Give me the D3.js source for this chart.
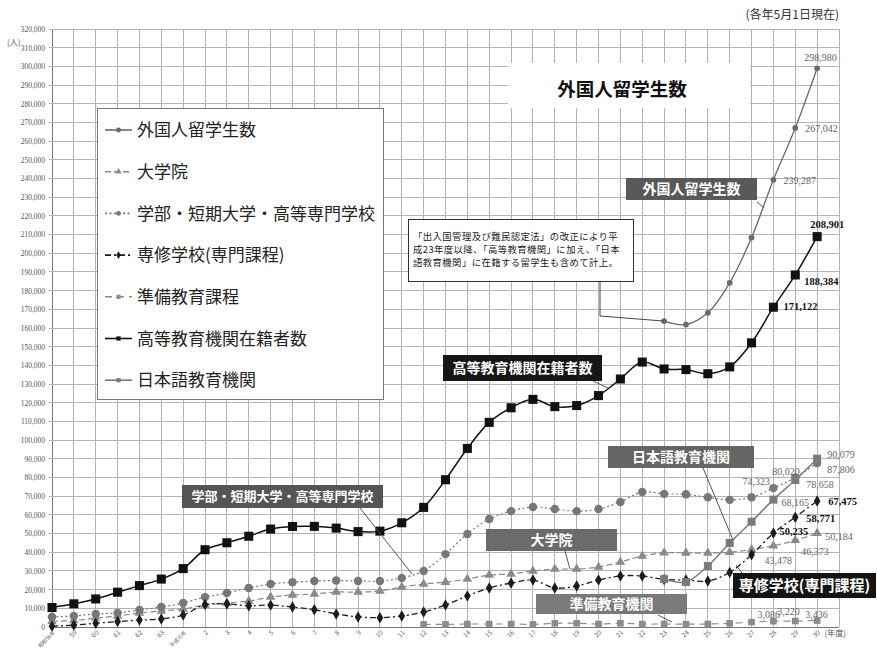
<!DOCTYPE html>
<html><head><meta charset="utf-8">
<script src="https://cdn.jsdelivr.net/npm/d3@7"></script>
<style>body{margin:0;background:#fff}svg{display:block}</style>
</head><body>
<svg id="c" width="877" height="649"></svg>
<script>
// ---------------- DATA ----------------
const years = ["昭和58年","59","60","61","62","63","平成元年","2","3","4","5","6","7","8","9","10","11","12","13","14","15","16","17","18","19","20","21","22","23","24","25","26","27","28","29","30"];
const yTicks = [0,10000,20000,30000,40000,50000,60000,70000,80000,90000,100000,110000,120000,130000,140000,150000,160000,170000,180000,190000,200000,210000,220000,230000,240000,250000,260000,270000,280000,290000,300000,310000,320000];
const N = null;
const totalStudents = [N,N,N,N,N,N,N,N,N,N,N,N,N,N,N,N,N,N,N,N,N,N,N,N,N,N,N,N,163697,161848,168145,184155,208379,239287,267042,298980];
const graduate = [3000,3500,4800,5900,7500,8600,9600,11800,12800,13900,16000,17100,17700,18700,18700,19300,21400,23000,24000,25700,27800,28400,30000,31000,31000,32100,34800,38000,39749,39641,39567,39979,41396,43478,46373,50184];
const undergrad = [5400,5900,7000,7500,9100,10700,12800,16000,18200,20900,23000,24000,24600,24900,24600,24600,26200,30000,39000,49800,57800,62000,64200,63100,62000,63100,66900,72200,71244,71000,69400,68027,69405,74323,80020,87806];
const senshu = [400,1000,2000,2900,3700,4300,6400,12000,12300,11400,11700,10700,9200,7000,5400,5000,5900,8000,11800,16600,20900,23500,25100,20900,21900,25100,27300,27300,25463,25167,24586,29227,38654,50235,58771,67475];
const junbi = [N,N,N,N,N,N,N,N,N,N,N,N,N,N,N,N,N,1400,1400,1600,1600,1600,1400,2000,2000,1600,2000,1600,1619,1500,1600,1952,2607,3086,3220,3436];
const higherEd = [10428,12410,15009,18631,22154,25643,31251,41347,45066,48561,52405,53787,53847,52921,51047,51298,55755,64011,78812,95550,109508,117302,121812,117927,118498,123829,132720,141774,138075,137756,135519,139185,152062,171122,188384,208901];
const japaneseLang = [N,N,N,N,N,N,N,N,N,N,N,N,N,N,N,N,N,N,N,N,N,N,N,N,N,N,N,N,25622,24092,32626,44970,56317,68165,78658,90079];

// ---------------- SETUP ----------------
const svg = d3.select("#c");
const x = d3.scaleLinear().domain([0, years.length]).range([52, 839]);
const y = d3.scaleLinear().domain([0, 320000]).range([627, 29]);
const JP = "'Noto Sans CJK JP', sans-serif";
const SERIF = "'Liberation Serif','Noto Sans CJK JP', serif";

const series = {
  total:   {name:"外国人留学生数", data:totalStudents, color:"#6a6a6a", w:1.3, dash:null, sym:d3.symbolCircle, size:26},
  grad:    {name:"大学院", data:graduate, color:"#8a8a8a", w:1.2, dash:"6,3", sym:d3.symbolTriangle, size:40},
  ug:      {name:"学部・短期大学・高等専門学校", data:undergrad, color:"#777", w:1.2, dash:"2,2.5", sym:d3.symbolCircle, size:56},
  senshu:  {name:"専修学校(専門課程)", data:senshu, color:"#1c1c1c", w:1.3, dash:"6,3,2,3", sym:d3.symbolDiamond, size:38},
  junbi:   {name:"準備教育課程", data:junbi, color:"#8c8c8c", w:1.2, dash:"7,5", sym:d3.symbolSquare, size:44},
  koto:    {name:"高等教育機関在籍者数", data:higherEd, color:"#111", w:1.5, dash:null, sym:d3.symbolSquare, size:82},
  nihongo: {name:"日本語教育機関", data:japaneseLang, color:"#7a7a7a", w:1.5, dash:null, sym:d3.symbolSquare, size:64}
};

// ---------------- GRID ----------------
const grid = svg.append("g").attr("shape-rendering","crispEdges");
grid.selectAll("line.v").data(d3.range(0, years.length + 1)).join("line")
  .attr("x1", d => x(d)).attr("x2", d => x(d))
  .attr("y1", y(320000)).attr("y2", y(0))
  .attr("stroke", d => d === 0 ? "#777" : "#b3b3b3").attr("stroke-width", 1);
grid.selectAll("line.h").data(yTicks).join("line")
  .attr("x1", x(0) - 3).attr("x2", x(years.length))
  .attr("y1", d => y(d)).attr("y2", d => y(d))
  .attr("stroke", d => d === 0 ? "#777" : "#b3b3b3").attr("stroke-width", 1);

// y axis labels
const yAxis = d3.axisLeft(y).tickValues(yTicks).tickSize(0).tickPadding(7)
  .tickFormat(d => d === 0 ? "0" : d3.format(",")(d));
const ya = svg.append("g").attr("transform", `translate(${x(0)},0)`).call(yAxis);
ya.select(".domain").remove();
ya.selectAll("text").attr("font-family", SERIF).attr("font-size", 7.5).attr("fill", "#555");

// x axis labels
const xAxis = d3.axisBottom(x).tickValues(d3.range(0, years.length)).tickSize(0)
  .tickFormat(i => years[i]);
const xa = svg.append("g").attr("transform", `translate(0,${y(0)})`).call(xAxis);
xa.select(".domain").remove();
xa.selectAll("text").attr("font-family", JP)
  .attr("font-size", (d) => years[d].length > 2 ? 5.2 : 6.5).attr("fill", "#666")
  .attr("text-anchor", "end").attr("dy", null).attr("y", 0)
  .attr("transform", "translate(3,6) rotate(-45)");

svg.append("text").attr("x", 846).attr("y", 636).attr("text-anchor","end")
  .attr("font-family", JP).attr("font-size", 8).attr("fill","#555").text("(年度)");
svg.append("text").attr("x", 7).attr("y", 45)
  .attr("font-family", JP).attr("font-size", 8).attr("fill","#555").text("(人)");
svg.append("text").attr("x", 839).attr("y", 19).attr("text-anchor","end")
  .attr("font-family", JP).attr("font-size", 12).attr("fill","#333").text("(各年5月1日現在)");

// title white box
svg.append("rect").attr("x", 508).attr("y", 63).attr("width", 242).attr("height", 45).attr("fill", "#fff");
svg.append("text").attr("x", 622).attr("y", 96).attr("text-anchor","middle")
  .attr("font-family", JP).attr("font-size", 18.5).attr("font-weight","bold").attr("fill","#111").text("外国人留学生数");

// ---------------- LINES ----------------
const line = d3.line().defined(d => d.v != null).x(d => x(d.i)).y(d => y(d.v))
  .curve(d3.curveCatmullRom.alpha(0.5));
const order = ["junbi","grad","ug","senshu","nihongo","total","koto"];
const plot = svg.append("g");
order.forEach(k => {
  const s = series[k];
  const pts = s.data.map((v, i) => ({i, v}));
  plot.append("path").datum(pts).attr("d", line).attr("fill","none")
    .attr("stroke", s.color).attr("stroke-width", s.w).attr("stroke-dasharray", s.dash);
  plot.append("g").selectAll("path").data(pts.filter(d => d.v != null)).join("path")
    .attr("transform", d => `translate(${x(d.i)},${y(d.v)})`)
    .attr("d", d3.symbol().type(s.sym).size(s.size)).attr("fill", s.color);
});

// ---------------- LEGEND ----------------
const legendKeys = ["total","grad","ug","senshu","junbi","koto","nihongo"];
const lg = svg.append("g");
lg.append("rect").attr("x", 97.5).attr("y", 108.5).attr("width", 286).attr("height", 291)
  .attr("fill","#fff").attr("stroke","#777").attr("stroke-width",1);
legendKeys.forEach((k, j) => {
  const s = series[k];
  const cy = 130 + j * 41.7;
  lg.append("line").attr("x1", 105).attr("x2", 132).attr("y1", cy).attr("y2", cy)
    .attr("stroke", s.color).attr("stroke-width", 1.6).attr("stroke-dasharray", s.dash);
  lg.append("path").attr("transform", `translate(118.5,${cy})`)
    .attr("d", d3.symbol().type(s.sym).size(18)).attr("fill", s.color);
  lg.append("text").attr("x", 137).attr("y", cy).attr("dy","0.36em")
    .attr("font-family", JP).attr("font-size", 17).attr("fill","#222").text(s.name);
});

// ---------------- NOTE BOX ----------------
svg.append("polyline")
  .attr("points", `600,282 600,316 ${x(28)},${y(totalStudents[28])}`)
  .attr("fill","none").attr("stroke","#444").attr("stroke-width",1);
svg.append("rect").attr("x", 408.5).attr("y", 219.5).attr("width", 225).attr("height", 62)
  .attr("fill","#fff").attr("stroke","#333").attr("stroke-width",1);
["「出入国管理及び難民認定法」の改正により平","成23年度以降、「高等教育機関」に加え、「日本","語教育機関」に在籍する留学生も含めて計上。"]
  .forEach((t, j) => svg.append("text").attr("x", 413).attr("y", 240 + j * 13.2)
    .attr("font-family", JP).attr("font-size", 9.4).attr("letter-spacing", 0.4)
    .attr("fill","#222").text(t));

// ---------------- CALLOUT BOXES ----------------
const callouts = [
  {t:"外国人留学生数", x:626, y:178, w:131, h:22, fill:"#595959", fs:14, p:[757,202,764,208]},
  {t:"高等教育機関在籍者数", x:443, y:355, w:159, h:26, fill:"#161616", fs:14, p:[593,381,608,388]},
  {t:"日本語教育機関", x:608, y:446, w:146, h:22, fill:"#656565", fs:14, p:[703,468,733,540]},
  {t:"学部・短期大学・高等専門学校", x:182, y:485, w:201, h:23, fill:"#555", fs:13, p:[360,508,412,574]},
  {t:"大学院", x:486, y:529, w:131, h:22, fill:"#6b6b6b", fs:14, p:[565,551,570,569]},
  {t:"専修学校(専門課程)", x:733, y:573, w:143, h:25, fill:"#141414", fs:15, p:[742,573,736,565]},
  {t:"準備教育機関", x:536, y:594, w:151, h:20, fill:"#7a7a7a", fs:14, p:[658,615,672,622]}
];
callouts.forEach(c => {
  svg.append("line").attr("x1", c.p[0]).attr("y1", c.p[1]).attr("x2", c.p[2]).attr("y2", c.p[3])
    .attr("stroke","#555").attr("stroke-width",1);
  svg.append("rect").attr("x", c.x).attr("y", c.y).attr("width", c.w).attr("height", c.h).attr("fill", c.fill);
  svg.append("text").attr("x", c.x + c.w / 2).attr("y", c.y + c.h / 2).attr("dy","0.36em")
    .attr("text-anchor","middle").attr("font-family", JP).attr("font-size", c.fs)
    .attr("font-weight","bold").attr("fill","#fff").text(c.t);
});

// ---------------- VALUE LABELS ----------------
const fmt = d3.format(",");
const valueLabels = [
  {d:totalStudents, i:35, dx:-13, dy:-7, b:false},
  {d:totalStudents, i:34, dx:10, dy:4, b:false},
  {d:totalStudents, i:33, dx:10, dy:4, b:false},
  {d:higherEd, i:35, dx:-7, dy:-9, b:true},
  {d:higherEd, i:34, dx:9, dy:10, b:true},
  {d:higherEd, i:33, dx:10, dy:3, b:true},
  {d:japaneseLang, i:35, dx:10, dy:-1, b:false},
  {d:undergrad, i:35, dx:10, dy:10, b:false},
  {d:undergrad, i:34, dx:-23, dy:-2, b:false},
  {d:undergrad, i:33, dx:-31, dy:-3, b:false},
  {d:japaneseLang, i:34, dx:11, dy:8, b:false},
  {d:japaneseLang, i:33, dx:8, dy:6, b:false},
  {d:senshu, i:35, dx:11, dy:4, b:true},
  {d:senshu, i:34, dx:11, dy:5, b:true},
  {d:senshu, i:33, dx:6, dy:2, b:true},
  {d:graduate, i:35, dx:8, dy:7, b:false},
  {d:graduate, i:34, dx:6, dy:15, b:false},
  {d:graduate, i:33, dx:-9, dy:18, b:false},
  {d:junbi, i:33, dx:-16, dy:-3, b:false},
  {d:junbi, i:34, dx:-18, dy:-6, b:false},
  {d:junbi, i:35, dx:-12, dy:-3, b:false}
];
valueLabels.forEach(l => {
  svg.append("text").attr("x", x(l.i) + l.dx).attr("y", y(l.d[l.i]) + l.dy)
    .attr("font-family", SERIF).attr("font-size", l.b ? 10.5 : 10)
    .attr("font-weight", l.b ? "bold" : "normal")
    .attr("fill", l.b ? "#111" : "#666").text(fmt(l.d[l.i]));
});
</script>
</body></html>
